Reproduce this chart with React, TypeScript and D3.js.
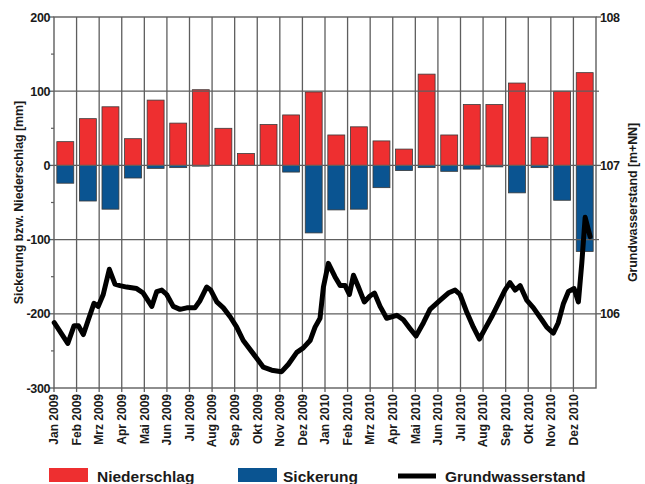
import React from "react";
import * as d3 from "d3";

const months = [
  "Jan 2009","Feb 2009","Mrz 2009","Apr 2009","Mai 2009","Jun 2009","Jul 2009","Aug 2009","Sep 2009","Okt 2009","Nov 2009","Dez 2009",
  "Jan 2010","Feb 2010","Mrz 2010","Apr 2010","Mai 2010","Jun 2010","Jul 2010","Aug 2010","Sep 2010","Okt 2010","Nov 2010","Dez 2010",
];
const niederschlag = [32, 63, 79, 36, 88, 57, 102, 50, 16, 55, 68, 99, 41, 52, 33, 22, 123, 41, 82, 82, 111, 38, 100, 125];
const sickerung = [-24, -48, -59, -17, -4, -3, -1, 0, 0, 0, -9, -91, -60, -59, -30, -7, -3, -8, -5, -2, -37, -3, -47, -116];
// [month position since Jan 2009, level m+NN]
const groundwater: [number, number][] = [
  [0.01,105.94],[0.61,105.80],[0.89,105.92],[1.08,105.92],[1.30,105.86],[1.52,105.96],[1.77,106.07],[1.96,106.05],
  [2.18,106.13],[2.45,106.30],[2.70,106.20],[2.92,106.19],[3.22,106.18],[3.66,106.17],[3.95,106.14],[4.33,106.05],
  [4.55,106.15],[4.77,106.16],[4.99,106.13],[5.28,106.05],[5.58,106.03],[5.88,106.04],[6.24,106.04],[6.47,106.09],
  [6.76,106.18],[6.94,106.16],[7.21,106.08],[7.50,106.04],[7.80,105.98],[8.09,105.91],[8.38,105.82],[8.83,105.73],
  [9.27,105.64],[9.64,105.62],[10.08,105.61],[10.38,105.66],[10.75,105.74],[11.04,105.77],[11.34,105.82],[11.56,105.91],
  [11.78,105.97],[11.93,106.18],[12.15,106.34],[12.44,106.25],[12.67,106.19],[12.89,106.19],[13.08,106.13],[13.26,106.26],
  [13.48,106.18],[13.74,106.08],[13.99,106.12],[14.19,106.14],[14.44,106.05],[14.73,105.97],[15.18,105.99],[15.47,105.96],
  [15.77,105.90],[16.03,105.85],[16.36,105.94],[16.65,106.03],[17.09,106.09],[17.46,106.14],[17.76,106.16],[17.98,106.13],
  [18.28,106.01],[18.57,105.91],[18.84,105.83],[19.09,105.90],[19.38,105.98],[19.68,106.07],[19.97,106.16],[20.19,106.21],
  [20.42,106.16],[20.64,106.19],[20.94,106.09],[21.23,106.04],[21.60,105.96],[21.82,105.91],[22.11,105.87],[22.33,105.94],
  [22.56,106.07],[22.78,106.15],[23.03,106.17],[23.22,106.08],[23.37,106.34],[23.52,106.65],[23.74,106.52],
];
const leftTicks = [200, 100, 0, -100, -200, -300];
const leftMinor = [150, 50, -50, -150, -250];
const rightTicks = [108, 107, 106];
const rightMinor = [107.5, 106.5];
const legendLabels = ["Niederschlag", "Sickerung", "Grundwasserstand"];

const W = 645, H = 484;
const L = 54, R = 596, T = 17, B = 388;
const RED = "#ee2f30", BLUE = "#0a5491", GRID = "#5e5e5e", TXT = "#1a1a1a";
const FONT = "'Liberation Sans', Arial, Helvetica, sans-serif";

export default function App() {
  const xb = d3.scaleBand<string>().domain(months).range([L, R]).paddingInner(0.25).paddingOuter(0.125);
  const xt = d3.scaleLinear().domain([0, months.length]).range([L, R]);
  const yl = d3.scaleLinear().domain([-300, 200]).range([B, T]);
  const yr = d3.scaleLinear().domain([105.5, 108]).range([B, T]);
  const line = d3.line<[number, number]>().x(d => xt(d[0])).y(d => yr(d[1])).curve(d3.curveLinear);
  const bw = xb.bandwidth();
  const midY = (T + B) / 2;

  return (
    <svg width={W} height={H} style={{ position: "absolute", left: 0, top: 0, background: "#fff" }} fontFamily={FONT}>
      {/* bars */}
      {months.map((m, i) => (
        <g key={m}>
          {niederschlag[i] > 0 && (
            <rect x={xb(m)} y={yl(niederschlag[i])} width={bw} height={yl(0) - yl(niederschlag[i])} fill={RED} stroke="#3a3a3a" strokeWidth={0.8} />
          )}
          {sickerung[i] < 0 && (
            <rect x={xb(m)} y={yl(0)} width={bw} height={yl(sickerung[i]) - yl(0)} fill={BLUE} stroke="#3a3a3a" strokeWidth={0.8} />
          )}
        </g>
      ))}
      {/* grid */}
      {leftTicks.filter(v => v !== 200 && v !== -300).map(v => (
        <line key={"h" + v} x1={L} x2={R} y1={yl(v)} y2={yl(v)} stroke={GRID} strokeWidth={1.3} />
      ))}
      {months.map((m, i) => i > 0 && (
        <line key={"v" + m} x1={xt(i)} x2={xt(i)} y1={T} y2={B} stroke={GRID} strokeWidth={1.3} />
      ))}
      <rect x={L} y={T} width={R - L} height={B - T} fill="none" stroke={GRID} strokeWidth={1.4} />
      {/* groundwater line */}
      <path d={line(groundwater) || ""} fill="none" stroke="#000" strokeWidth={5} strokeLinejoin="round" strokeLinecap="round" />
      {/* left axis */}
      {leftTicks.map(v => (
        <g key={"lt" + v}>
          <line x1={L - 5} x2={L} y1={yl(v)} y2={yl(v)} stroke={GRID} strokeWidth={1.3} />
          <text x={L - 4} y={yl(v)} dy="0.36em" textAnchor="end" fontSize={12.5} fontWeight="bold" fill={TXT} letterSpacing={-0.4}>{v}</text>
        </g>
      ))}
      {leftMinor.map(v => (
        <line key={"lm" + v} x1={L - 3} x2={L} y1={yl(v)} y2={yl(v)} stroke={GRID} strokeWidth={1.2} />
      ))}
      {/* right axis */}
      {rightTicks.map(v => (
        <g key={"rt" + v}>
          <line x1={R} x2={R + 5} y1={yr(v)} y2={yr(v)} stroke={GRID} strokeWidth={1.3} />
          <text x={R + 4} y={yr(v)} dy="0.36em" textAnchor="start" fontSize={12.5} fontWeight="bold" fill={TXT} letterSpacing={-0.4}>{v}</text>
        </g>
      ))}
      {rightMinor.map(v => (
        <line key={"rm" + v} x1={R} x2={R + 3} y1={yr(v)} y2={yr(v)} stroke={GRID} strokeWidth={1.2} />
      ))}
      {/* x axis */}
      {months.map((m, i) => (
        <g key={"xt" + m}>
          <line x1={xt(i)} x2={xt(i)} y1={B} y2={B + 4} stroke={GRID} strokeWidth={1.3} />
          <text transform={`translate(${xt(i)},${B + 6}) rotate(-90)`} dy="0.36em" textAnchor="end" fontSize={12} fontWeight="bold" fill={TXT}>{m}</text>
        </g>
      ))}
      {/* axis titles */}
      <text transform={`translate(18,${midY}) rotate(-90)`} dy="0.36em" textAnchor="middle" fontSize={12.5} fontWeight="bold" fill={TXT} letterSpacing={-0.1}>Sickerung bzw. Niederschlag [mm]</text>
      <text transform={`translate(632,${midY}) rotate(-90)`} dy="0.36em" textAnchor="middle" fontSize={12.5} fontWeight="bold" fill={TXT} letterSpacing={-0.1}>Grundwasserstand [m+NN]</text>
      {/* legend */}
      <rect x={49} y={468} width={39} height={14} fill={RED} />
      <text x={97} y={482} fontSize={15.5} fontWeight="bold" fill={TXT}>{legendLabels[0]}</text>
      <rect x={238} y={468} width={39} height={14} fill={BLUE} />
      <text x={283} y={482} fontSize={15.5} fontWeight="bold" fill={TXT}>{legendLabels[1]}</text>
      <line x1={398} x2={436} y1={476} y2={476} stroke="#000" strokeWidth={5} />
      <text x={445} y={482} fontSize={15.5} fontWeight="bold" fill={TXT}>{legendLabels[2]}</text>
    </svg>
  );
}
